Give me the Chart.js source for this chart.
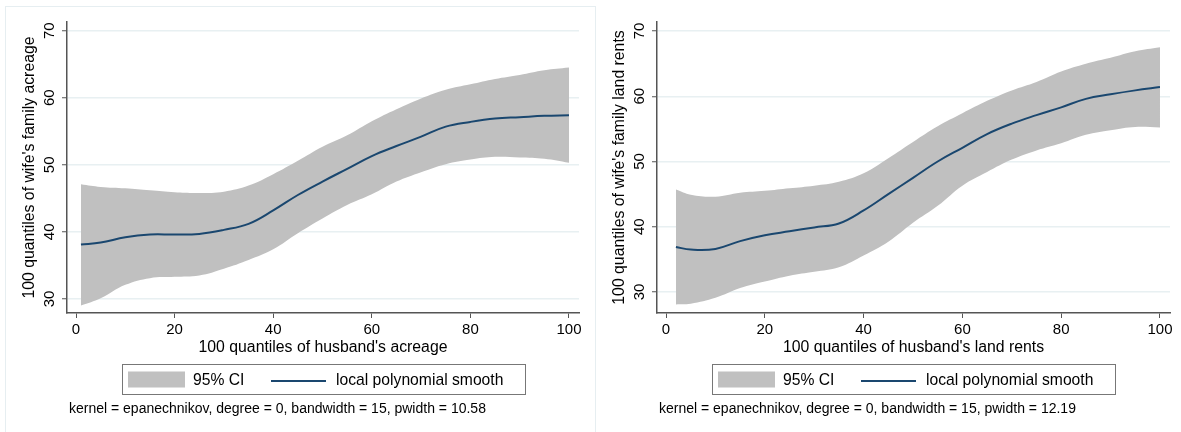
<!DOCTYPE html>
<html lang="en">
<head>
<meta charset="utf-8">
<title>Local polynomial smooth</title>
<script src="https://cdn.jsdelivr.net/npm/chart.js@4.4.1/dist/chart.umd.min.js"></script>
<style>
  html, body { margin: 0; padding: 0; background: #fff; }
  body { width: 1181px; height: 432px; position: relative; overflow: hidden; }
  .marco { position: absolute; left: 5px; top: 6px; width: 589px; height: 440px; border: 1px solid #e6eef1; }
  canvas { position: absolute; top: 0; }
  #graficoIzq { left: 0; }
  #graficoDer { left: 590px; }
</style>
</head>
<body>
<div class="marco"></div>
<canvas id="graficoIzq" width="590" height="432"></canvas>
<canvas id="graficoDer" width="591" height="432"></canvas>
<script>
// Datos (panel izquierdo: acreage)
const cuantilesIzq = [1, 5, 10, 15, 20, 25, 30, 35, 40, 45, 50, 55, 60, 65, 70, 75, 80, 85, 90, 95, 100];
const ciSupIzq = [47.1, 46.7, 46.5, 46.2, 45.9, 45.8, 46.0, 46.9, 48.6, 50.6, 52.7, 54.4, 56.5, 58.3, 59.9, 61.2, 62.0, 62.8, 63.4, 64.1, 64.5];
const ciInfIzq = [29.0, 30.1, 32.1, 33.1, 33.3, 33.5, 34.5, 35.8, 37.4, 39.8, 42.0, 44.0, 45.6, 47.5, 48.9, 50.1, 50.8, 51.2, 51.1, 50.9, 50.3];
const suaveIzq = [38.1, 38.4, 39.2, 39.6, 39.6, 39.7, 40.3, 41.2, 43.2, 45.5, 47.5, 49.4, 51.3, 52.8, 54.2, 55.7, 56.4, 56.9, 57.1, 57.3, 57.4];

// Panel derecho: land rents
const cuantilesDer = [2, 5, 10, 15, 20, 25, 30, 35, 40, 45, 50, 55, 60, 65, 70, 75, 80, 85, 90, 95, 100];
const ciSupDer = [45.7, 44.9, 44.6, 45.2, 45.5, 45.9, 46.3, 46.9, 48.2, 50.5, 53.0, 55.4, 57.4, 59.3, 60.9, 62.2, 63.8, 65.0, 65.9, 66.9, 67.5];
const ciInfDer = [28.1, 28.2, 29.1, 30.6, 31.6, 32.5, 33.1, 33.8, 35.6, 37.7, 40.6, 43.2, 46.3, 48.4, 50.3, 51.7, 52.8, 54.1, 54.8, 55.3, 55.2];
const suaveDer = [36.9, 36.5, 36.6, 37.8, 38.7, 39.3, 39.9, 40.5, 42.5, 45.0, 47.5, 50.0, 52.1, 54.2, 55.8, 57.1, 58.3, 59.6, 60.3, 60.9, 61.4];

// Textos
const nombresSeries = ['95% CI', 'local polynomial smooth'];
const tituloXIzq = "100 quantiles of husband's acreage";
const tituloYIzq = "100 quantiles of wife's family acreage";
const tituloXDer = "100 quantiles of husband's land rents";
const tituloYDer = "100 quantiles of wife's family land rents";
const notaIzq = 'kernel = epanechnikov, degree = 0, bandwidth = 15, pwidth = 10.58';
const notaDer = 'kernel = epanechnikov, degree = 0, bandwidth = 15, pwidth = 12.19';

const colorBanda = '#c0c0c0';
const colorLinea = '#1a476f';
const fuente = '"Liberation Sans", Arial, Helvetica, sans-serif';

// Leyenda con recuadro y nota al pie, al estilo Stata
const leyendaStata = {
    id: 'leyendaStata',
    afterDraw(chart, args, opts) {
        const ctx = chart.ctx;
        const ca = chart.chartArea;
        const x0 = Math.round((ca.left + ca.right) / 2 - 201.5) + 0.5;
        ctx.save();
        ctx.strokeStyle = '#777';
        ctx.lineWidth = 1;
        ctx.strokeRect(x0, 364.5, 403, 30);
        ctx.fillStyle = colorBanda;
        ctx.fillRect(x0 + 5.5, 371.5, 57, 16);
        ctx.font = '15.7px ' + fuente;
        ctx.fillStyle = '#000';
        ctx.textBaseline = 'middle';
        ctx.fillText(nombresSeries[0], x0 + 70.5, 381);
        ctx.strokeStyle = colorLinea;
        ctx.lineWidth = 2;
        ctx.beginPath();
        ctx.moveTo(x0 + 148.5, 381);
        ctx.lineTo(x0 + 203.5, 381);
        ctx.stroke();
        ctx.fillText(nombresSeries[1], x0 + 213.5, 381);
        // nota al pie
        ctx.font = '14px ' + fuente;
        ctx.fillStyle = '#000';
        ctx.fillText(opts.nota, ca.left + 2, 409);
        ctx.restore();
    }
};

function dibujarPanel(idCanvas, cuantiles, ciSup, ciInf, suave, tituloX, tituloY, nota, yMin, yMax) {
    const ctx = document.getElementById(idCanvas).getContext('2d');
    new Chart(ctx, {
        type: 'line',
        data: {
            datasets: [{
                label: nombresSeries[1],
                data: cuantiles.map((x, i) => ({ x: x, y: suave[i] })),
                borderColor: colorLinea,
                borderWidth: 2,
                pointRadius: 0,
                tension: 0.4,
                fill: false
            }, {
                label: nombresSeries[0],
                data: cuantiles.map((x, i) => ({ x: x, y: ciSup[i] })),
                borderWidth: 0,
                borderColor: 'rgba(0,0,0,0)',
                backgroundColor: colorBanda,
                pointRadius: 0,
                tension: 0.4,
                fill: '+1'
            }, {
                label: 'ci inferior',
                data: cuantiles.map((x, i) => ({ x: x, y: ciInf[i] })),
                borderWidth: 0,
                borderColor: 'rgba(0,0,0,0)',
                pointRadius: 0,
                tension: 0.4,
                fill: false
            }]
        },
        options: {
            responsive: false,
            animation: false,
            layout: { padding: { left: 20, right: 11, top: 22, bottom: 75 } },
            plugins: {
                legend: { display: false },
                tooltip: { enabled: false },
                leyendaStata: { nota: nota }
            },
            scales: {
                x: {
                    type: 'linear',
                    min: -1.83,
                    max: 102.03,
                    afterFit: s => { s.height = 44; },
                    ticks: {
                        stepSize: 20,
                        includeBounds: false,
                        color: '#000',
                        padding: 3,
                        maxRotation: 0,
                        font: { family: fuente, size: 15 }
                    },
                    grid: { drawOnChartArea: false, tickColor: '#555', tickLength: 5, tickWidth: 1 },
                    border: { color: '#555', width: 1.5 },
                    title: {
                        display: true,
                        text: tituloX,
                        color: '#000',
                        padding: 0,
                        font: { family: fuente, size: 15.8 }
                    }
                },
                y: {
                    min: yMin,
                    max: yMax,
                    afterFit: s => { s.width = 47; },
                    ticks: {
                        stepSize: 10,
                        includeBounds: false,
                        color: '#000',
                        padding: 4,
                        minRotation: 90,
                        maxRotation: 90,
                        crossAlign: 'center',
                        font: { family: fuente, size: 15 }
                    },
                    grid: { color: '#e8f0f2', lineWidth: 1.5, tickColor: '#555', tickLength: 5, tickWidth: 1 },
                    border: { color: '#555', width: 1.5 },
                    title: {
                        display: true,
                        text: tituloY,
                        color: '#000',
                        padding: 0,
                        font: { family: fuente, size: 15.8 }
                    }
                }
            }
        },
        plugins: [leyendaStata]
    });
}

dibujarPanel('graficoIzq', cuantilesIzq, ciSupIzq, ciInfIzq, suaveIzq, tituloXIzq, tituloYIzq, notaIzq, 27.9, 71.3);
dibujarPanel('graficoDer', cuantilesDer, ciSupDer, ciInfDer, suaveDer, tituloXDer, tituloYDer, notaDer, 26.78, 71.38);
</script>
</body>
</html>
